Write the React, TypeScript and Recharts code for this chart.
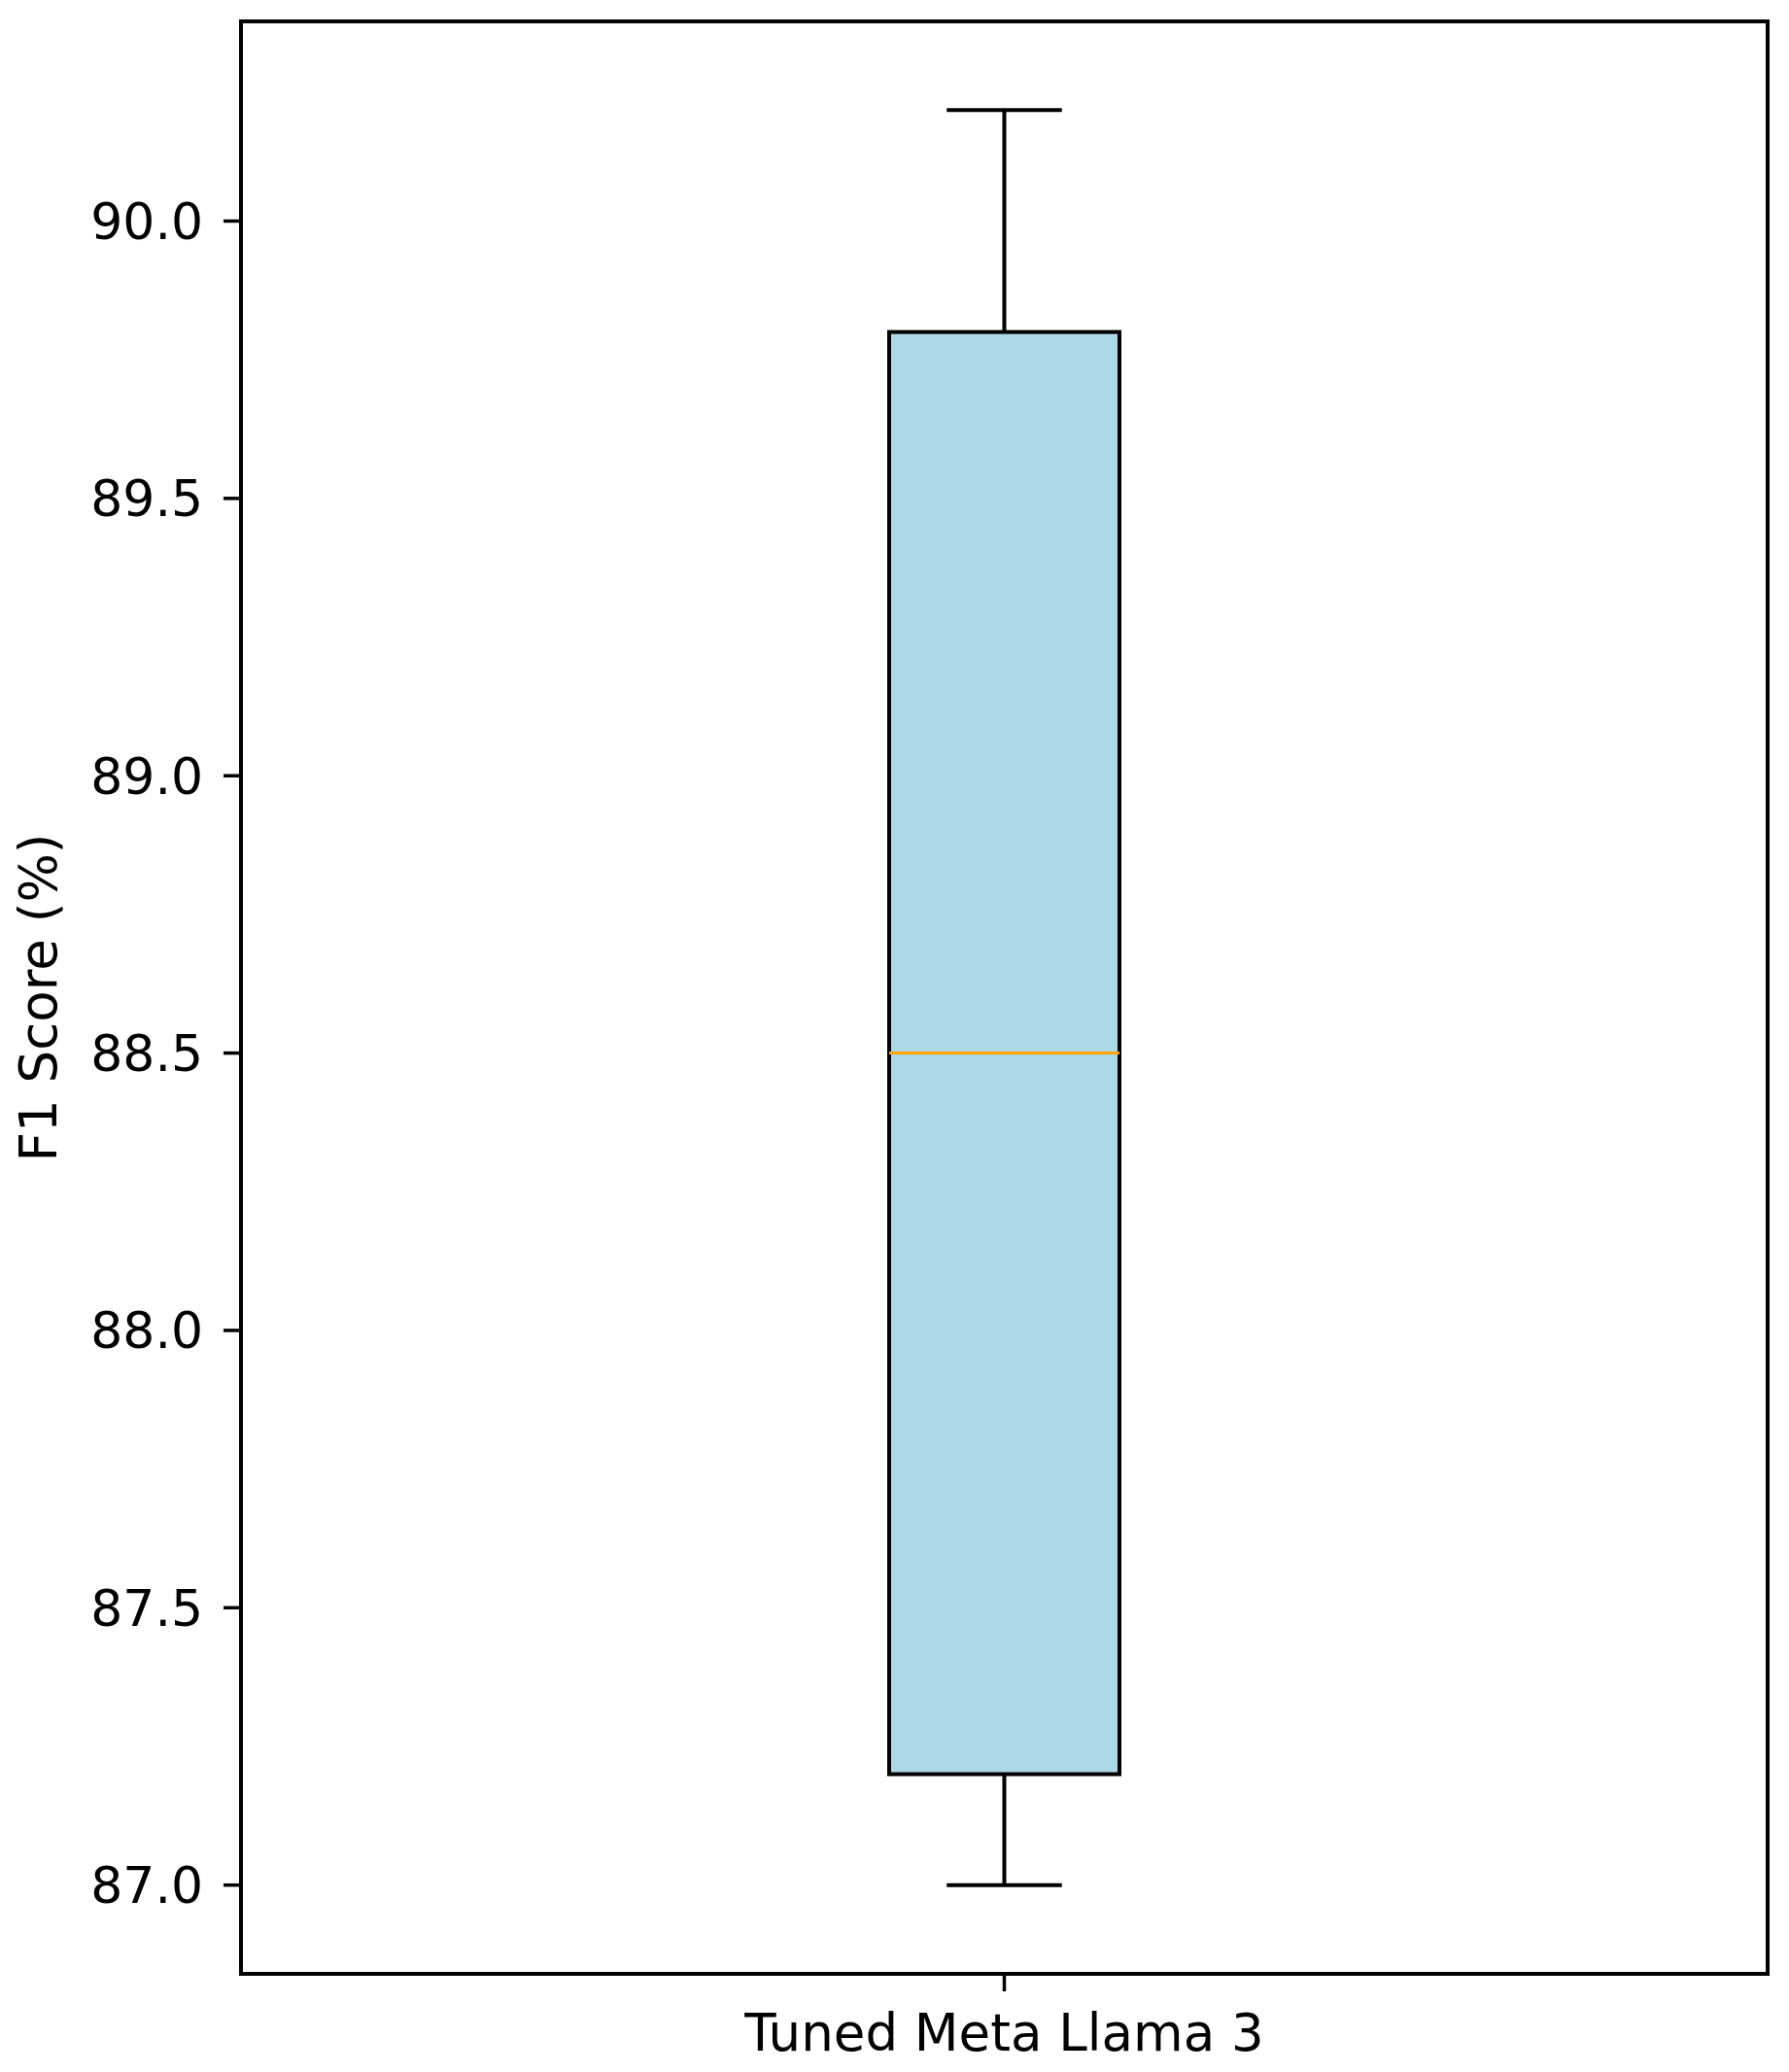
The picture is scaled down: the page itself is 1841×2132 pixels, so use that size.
import React from 'react';
import { ComposedChart, Bar, XAxis, YAxis, ReferenceArea, Label } from 'recharts';

const categories = ['Tuned Meta Llama 3'];
const whiskerLow = [87.0];
const quartile1 = [87.2];
const medians = [88.5];
const quartile3 = [89.8];
const whiskerHigh = [90.2];
const yTicks = [87.0, 87.5, 88.0, 88.5, 89.0, 89.5, 90.0];
const yDomain: [number, number] = [86.84, 90.36];

const data = categories.map((name, i) => ({
  name,
  box: [quartile1[i], quartile3[i]],
  low: whiskerLow[i],
  q1: quartile1[i],
  median: medians[i],
  q3: quartile3[i],
  high: whiskerHigh[i],
}));

const FONT = '"DejaVu Sans", sans-serif';

const BoxShape = (props: any) => {
  const { x, y, width, height, payload } = props;
  const top = Math.min(y, y + height);
  const h = Math.abs(height);
  const ppu = h / (payload.q3 - payload.q1);
  const yOf = (v: number) => top + (payload.q3 - v) * ppu;
  const cx = x + width / 2;
  const capHalf = width / 4;
  const yHigh = yOf(payload.high);
  const yLow = yOf(payload.low);
  const yMed = yOf(payload.median);
  const yQ1 = yOf(payload.q1);
  return (
    <g>
      <line x1={cx} x2={cx} y1={yHigh} y2={top} stroke="#000" strokeWidth={4} />
      <line x1={cx - capHalf} x2={cx + capHalf} y1={yHigh} y2={yHigh} stroke="#000" strokeWidth={4} />
      <line x1={cx} x2={cx} y1={yQ1} y2={yLow} stroke="#000" strokeWidth={4} />
      <line x1={cx - capHalf} x2={cx + capHalf} y1={yLow} y2={yLow} stroke="#000" strokeWidth={4} />
      <rect x={x} y={top} width={width} height={h} fill="#ADD8E6" stroke="#000" strokeWidth={4} />
      <line x1={x} x2={x + width} y1={yMed} y2={yMed} stroke="#FFA500" strokeWidth={3} />
    </g>
  );
};

export default function App() {
  return (
    <div style={{ position: 'absolute', left: 0, top: 0, background: '#fff' }}>
      <ComposedChart
        width={1841}
        height={2132}
        data={data}
        margin={{ top: 22, right: 22, bottom: 0, left: 0 }}
      >
        <XAxis
          dataKey="name"
          type="category"
          height={101}
          interval={0}
          axisLine={false}
          tickLine={{ stroke: '#000', strokeWidth: 3.5 }}
          tickSize={18}
          tickMargin={23}
          tick={{ fill: '#000', fontSize: 53, fontFamily: FONT }}
        />
        <YAxis
          type="number"
          domain={yDomain}
          ticks={yTicks}
          width={248}
          allowDataOverflow
          axisLine={false}
          tickLine={{ stroke: '#000', strokeWidth: 3.5 }}
          tickSize={18}
          tickMargin={21}
          tickFormatter={(v: number) => v.toFixed(1)}
          tick={{ fill: '#000', fontSize: 52, fontFamily: FONT }}
        >
          <Label
            content={(p: any) => {
              const vb = p.viewBox || {};
              const cy = (vb.y || 0) + (vb.height || 0) / 2;
              const lx = (vb.x || 0) + 58;
              return (
                <text
                  x={lx}
                  y={cy}
                  transform={`rotate(-90, ${lx}, ${cy})`}
                  textAnchor="middle"
                  fill="#000"
                  fontSize={53}
                  fontFamily={FONT}
                >
                  F1 Score (%)
                </text>
              );
            }}
          />
        </YAxis>
        <Bar dataKey="box" barSize={237} isAnimationActive={false} shape={(p: any) => <BoxShape {...p} />} />
        <ReferenceArea
          y1={yDomain[0]}
          y2={yDomain[1]}
          fill="none"
          fillOpacity={0}
          stroke="#000"
          strokeWidth={4}
          ifOverflow="visible"
        />
      </ComposedChart>
    </div>
  );
}
